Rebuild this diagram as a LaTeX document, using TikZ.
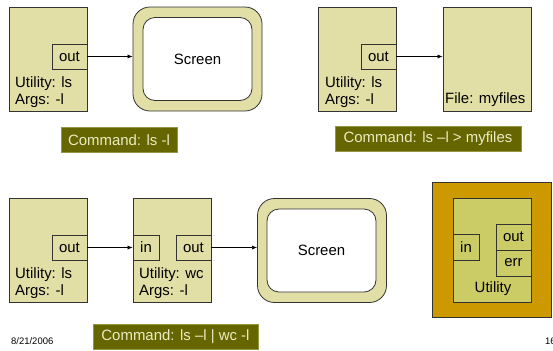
\documentclass[tikz,border=0pt]{standalone}
\usepackage{fontspec}
\setmainfont{Liberation Sans}
\usetikzlibrary{arrows.meta,calc}
\definecolor{khaki}{HTML}{E1DFA6}
\definecolor{cmdfill}{HTML}{666600}
\definecolor{cmdtext}{HTML}{ECECC4}
\definecolor{edge}{HTML}{333333}
\definecolor{gold}{HTML}{CC9900}
\definecolor{olivein}{HTML}{CCCC66}
\tikzset{
  x=1bp, y=-1bp,
  every node/.style={font=\fontsize{15}{18}\selectfont, inner sep=0pt},
  util/.style={draw=edge, fill=khaki, line width=0.8bp, minimum width=78bp, minimum height=104bp},
  port/.style={draw=edge, fill=khaki, line width=0.8bp, minimum width=35bp, minimum height=25bp},
  inport/.style={port, minimum width=26bp},
  scrouter/.style={draw=edge, fill=khaki, line width=0.8bp, rounded corners=17bp, minimum width=129bp, minimum height=104bp},
  scrinner/.style={draw=edge, fill=white, line width=0.8bp, rounded corners=12bp, minimum width=109bp, minimum height=83bp},
  cmd/.style={fill=cmdfill, draw=cmdfill!60!khaki, line width=0.5bp, text=cmdtext, minimum height=25bp},
  lbl/.style={anchor=base west},
  conn/.style={line width=0.6bp, -{Latex[length=5bp,width=4bp]}},
  small/.style={font=\fontsize{9.5}{11}\selectfont, anchor=base west}
}
\begin{document}
\begin{tikzpicture}
\useasboundingbox (0,0) rectangle (553,350);
% ---- top left: ls -l
\node[util] (u1) at (48,59) {};
\node[port] (o1) at (69.5,56.5) {out};
\node[lbl] (u1a) at (15,87) {Utility: ls};
\node[lbl] (u1b) at (15,104) {Args: -l};
\node[scrouter] (s1) at (197.5,59) {};
\node[scrinner] (s1i) at (197.5,59) {Screen};
\draw[conn] (o1.east) -- (o1.east -| s1.west);
\node[cmd, minimum width=116bp] (c1) at (119,140) {Command: ls -l};
% ---- top right: ls -l > myfiles
\node[util] (u2) at (357.5,59) {};
\node[port] (o2) at (378.5,56.5) {out};
\node[lbl] (u2a) at (325,87) {Utility: ls};
\node[lbl] (u2b) at (325,104) {Args: -l};
\node[util, minimum width=88bp] (f2) at (487,59) {};
\node[lbl] (f2a) at (445,103) {File: myfiles};
\draw[conn] (o2.east) -- (o2.east -| f2.west);
\node[cmd, minimum width=186bp] (c2) at (428,139) {Command: ls \textendash l > myfiles};
% ---- bottom: ls -l | wc -l
\node[util] (u3) at (48,250) {};
\node[port] (o3) at (69.5,247.5) {out};
\node[lbl] (u3a) at (15,278) {Utility: ls};
\node[lbl] (u3b) at (15,295) {Args: -l};
\node[util] (u4) at (172,250) {};
\node[inport] (i4) at (146,247.5) {in};
\node[port] (o4) at (193.5,247.5) {out};
\node[lbl] (u4a) at (139,278) {Utility: wc};
\node[lbl] (u4b) at (139,295) {Args: -l};
\node[scrouter] (s3) at (322,250.5) {};
\node[scrinner] (s3i) at (321.5,250.5) {Screen};
\draw[conn] (o3.east) -- (i4.west);
\draw[conn] (o4.east) -- (o4.east -| s3.west);
\node[cmd, minimum width=165bp] (c3) at (175.5,336.5) {Command: ls \textendash l | wc -l};
% ---- utility legend
\node[draw=edge, fill=gold, line width=0.8bp, minimum width=119bp, minimum height=135bp] (lg) at (491.5,249.5) {};
\node[draw=edge, fill=olivein, line width=0.8bp, minimum width=78bp, minimum height=104bp] (lgu) at (492,250) {};
\node[draw=edge, fill=olivein, line width=0.8bp, minimum width=26bp, minimum height=26bp] (lgi) at (466,247) {in};
\node[draw=edge, fill=olivein, line width=0.8bp, minimum width=35bp, minimum height=26bp] (lgo) at (513.5,237) {out};
\node[draw=edge, fill=olivein, line width=0.8bp, minimum width=35bp, minimum height=26bp] (lge) at (513.5,263) {err};
\node (lgt) at (493,289) {Utility};
% ---- footer
\node[small] (date) at (11,344) {8/21/2006};
\node[small] (pg) at (545,344) {16};
\end{tikzpicture}
\end{document}
